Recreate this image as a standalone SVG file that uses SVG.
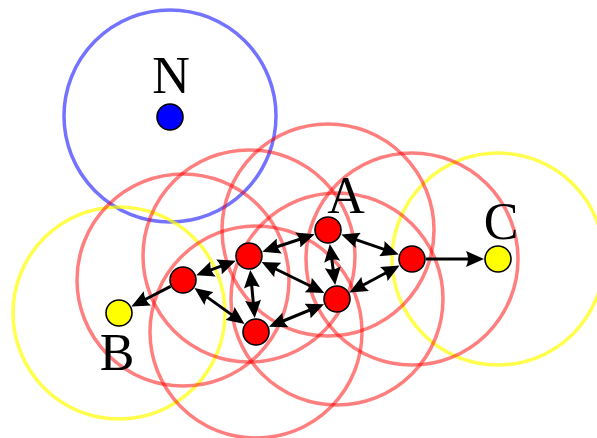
<svg xmlns="http://www.w3.org/2000/svg" width="597" height="438" viewBox="0 0 597 438">
<style>
.rng{fill:none;stroke-width:3.5}
.red{stroke:#ff0000;stroke-opacity:0.5}
.yel{stroke:#ffff00;stroke-opacity:0.7}
.blu{stroke:#0000ff;stroke-opacity:0.55}
.pt{stroke:#000;stroke-width:1.6}
.ar{stroke:#000;stroke-width:3;fill:none}
.lbl{font-family:"Liberation Serif","Times New Roman",serif;font-size:52px;fill:#000;text-anchor:middle}
</style>
<defs>
<marker id="ah" viewBox="0 0 18 16" markerWidth="18" markerHeight="16" refX="8" refY="8" markerUnits="userSpaceOnUse" orient="auto-start-reverse">
<path d="M18,8 L0,0 Q4,8 0,16 Z" fill="#000"/>
</marker>
</defs>
<g id="ranges">
<circle class="rng blu" cx="170" cy="116" r="106"/>
<circle class="rng yel" cx="119" cy="313" r="106"/>
<circle class="rng yel" cx="498" cy="259" r="106"/>
<circle class="rng red" cx="183" cy="280" r="106"/>
<circle class="rng red" cx="249" cy="256" r="106"/>
<circle class="rng red" cx="256" cy="332" r="106"/>
<circle class="rng red" cx="328" cy="230" r="106"/>
<circle class="rng red" cx="337" cy="299" r="106"/>
<circle class="rng red" cx="412" cy="259" r="106"/>
</g>
<g id="connectors">
<line class="ar" x1="170.6" y1="286.4" x2="140.3" y2="302.0" marker-end="url(#ah)"/>
<line class="ar" x1="205.6" y1="271.8" x2="226.4" y2="264.2" marker-start="url(#ah)" marker-end="url(#ah)"/>
<line class="ar" x1="202.6" y1="293.9" x2="236.4" y2="318.1" marker-start="url(#ah)" marker-end="url(#ah)"/>
<line class="ar" x1="271.8" y1="248.5" x2="305.2" y2="237.5" marker-start="url(#ah)" marker-end="url(#ah)"/>
<line class="ar" x1="251.2" y1="279.9" x2="253.8" y2="308.1" marker-start="url(#ah)" marker-end="url(#ah)"/>
<line class="ar" x1="270.6" y1="266.5" x2="315.4" y2="288.5" marker-start="url(#ah)" marker-end="url(#ah)"/>
<line class="ar" x1="331.1" y1="253.8" x2="333.9" y2="275.2" marker-start="url(#ah)" marker-end="url(#ah)"/>
<line class="ar" x1="350.7" y1="237.8" x2="389.3" y2="251.2" marker-start="url(#ah)" marker-end="url(#ah)"/>
<line class="ar" x1="358.2" y1="287.7" x2="390.8" y2="270.3" marker-start="url(#ah)" marker-end="url(#ah)"/>
<line class="ar" x1="278.2" y1="323.0" x2="314.8" y2="308.0" marker-start="url(#ah)" marker-end="url(#ah)"/>
<line class="ar" x1="426" y1="259" x2="474" y2="259" marker-end="url(#ah)"/>
</g>
<g id="node-N"><circle class="pt" cx="170" cy="117" r="13" fill="#0000ff"/><text class="lbl" x="171" y="93">N</text></g>
<g id="node-B"><circle class="pt" cx="119" cy="313" r="13" fill="#ffff00"/><text class="lbl" x="117" y="370">B</text></g>
<g id="node-C"><circle class="pt" cx="498" cy="259" r="13" fill="#ffff00"/><text class="lbl" x="501" y="239">C</text></g>
<g id="node-A"><circle class="pt" cx="328" cy="230" r="13" fill="#ff0000"/><text class="lbl" x="346" y="213">A</text></g>
<g id="node-P1"><circle class="pt" cx="183" cy="280" r="13" fill="#ff0000"/></g>
<g id="node-P2"><circle class="pt" cx="249" cy="256" r="13" fill="#ff0000"/></g>
<g id="node-P3"><circle class="pt" cx="256" cy="332" r="13" fill="#ff0000"/></g>
<g id="node-P5"><circle class="pt" cx="337" cy="299" r="13" fill="#ff0000"/></g>
<g id="node-P6"><circle class="pt" cx="412" cy="259" r="13" fill="#ff0000"/></g>
</svg>
